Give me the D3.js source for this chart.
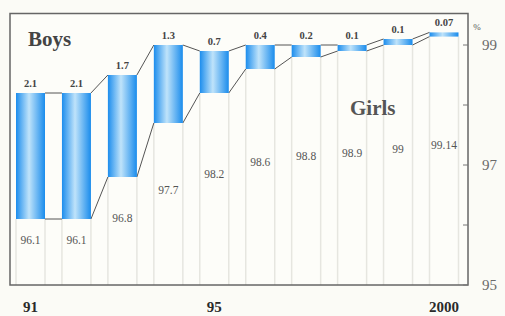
<!DOCTYPE html>
<html>
<head>
<meta charset="utf-8">
<script src="https://cdn.jsdelivr.net/npm/d3@7"></script>
<style>
  body { margin: 0; background: #fbfbf6; }
  svg { display: block; }
</style>
</head>
<body>
<div id="chart"></div>
<script>
// datos
const years = ["91", "92", "93", "94", "95", "96", "97", "98", "99", "2000"];
const girls = [96.1, 96.1, 96.8, 97.7, 98.2, 98.6, 98.8, 98.9, 99, 99.14];
const gap = [2.1, 2.1, 1.7, 1.3, 0.7, 0.4, 0.2, 0.1, 0.1, 0.07];
const girlsLabels = ["96.1", "96.1", "96.8", "97.7", "98.2", "98.6", "98.8", "98.9", "99", "99.14"];
const gapLabels = ["2.1", "2.1", "1.7", "1.3", "0.7", "0.4", "0.2", "0.1", "0.1", "0.07"];
const yTicks = [95, 97, 99];
const yMinor = [96, 98];
const xLabels = ["91", "95", "2000"];

const width = 505, height = 316;
const frame = { left: 10, right: 468, top: 13.5, bottom: 285 };
const barW = 29;
const serif = "'Liberation Serif', 'DejaVu Serif', serif";

const svg = d3.select("#chart").append("svg")
  .attr("width", width)
  .attr("height", height)
  .attr("font-family", serif);

const x = d3.scalePoint().domain(years).range([30.5, 444]);
const y = d3.scaleLinear().domain([95, 99]).range([285, 45]);
// las etiquetas de las chicas van en escalera, en otra escala
const yLab = d3.scaleLinear().domain([95, 99]).range([274.4, 149.4]);

const boys = girls.map((g, i) => g + gap[i]);

// degradado de las barras
const grad = svg.append("defs").append("linearGradient")
  .attr("id", "barra")
  .attr("x1", "0%").attr("x2", "100%")
  .attr("y1", "0%").attr("y2", "0%");
grad.append("stop").attr("offset", "0%").attr("stop-color", "#1c8ded");
grad.append("stop").attr("offset", "45%").attr("stop-color", "#bfe3fa");
grad.append("stop").attr("offset", "100%").attr("stop-color", "#1a8cec");

// fondo del area
svg.append("rect")
  .attr("x", frame.left).attr("y", frame.top)
  .attr("width", frame.right - frame.left)
  .attr("height", frame.bottom - frame.top)
  .attr("fill", "#fdfdf9");

// lineas verticales tenues bajo las barras
years.forEach((yr, i) => {
  [x(yr) - barW / 2, x(yr) + barW / 2].forEach(px => {
    svg.append("line")
      .attr("x1", px).attr("x2", px)
      .attr("y1", y(girls[i])).attr("y2", frame.bottom)
      .attr("stroke", "#e6e6e0").attr("stroke-width", 1.5);
  });
});

// lineas de union entre barras
for (let i = 0; i < years.length - 1; i++) {
  const x1 = x(years[i]) + barW / 2, x2 = x(years[i + 1]) - barW / 2;
  [[boys[i], boys[i + 1]], [girls[i], girls[i + 1]]].forEach(([a, b]) => {
    svg.append("line")
      .attr("x1", x1).attr("y1", y(a))
      .attr("x2", x2).attr("y2", y(b))
      .attr("stroke", "#555").attr("stroke-width", 1);
  });
}

// barras
svg.selectAll(".bar")
  .data(years)
  .join("rect")
  .attr("class", "bar")
  .attr("x", d => x(d) - barW / 2)
  .attr("width", barW)
  .attr("y", (d, i) => y(boys[i]))
  .attr("height", (d, i) => y(girls[i]) - y(boys[i]))
  .attr("fill", "url(#barra)");

// marco
svg.append("rect")
  .attr("x", frame.left).attr("y", frame.top)
  .attr("width", frame.right - frame.left)
  .attr("height", frame.bottom - frame.top)
  .attr("fill", "none")
  .attr("stroke", "#666").attr("stroke-width", 1.5);

// marcas del eje derecho
yTicks.concat(yMinor).forEach(v => {
  svg.append("line")
    .attr("x1", frame.right - 5).attr("x2", frame.right)
    .attr("y1", y(v)).attr("y2", y(v))
    .attr("stroke", "#777").attr("stroke-width", 1);
});

svg.selectAll(".ytick")
  .data(yTicks)
  .join("text")
  .attr("class", "ytick")
  .attr("x", 482)
  .attr("y", d => y(d) + 5)
  .attr("font-size", 15)
  .attr("fill", "#6a6a6a")
  .text(d => d);

svg.append("text")
  .attr("x", 477).attr("y", 30)
  .attr("font-size", 9)
  .attr("fill", "#555")
  .style("text-anchor", "middle")
  .text("%");

// etiquetas de diferencia (arriba)
svg.selectAll(".gap")
  .data(years)
  .join("text")
  .attr("class", "gap")
  .attr("x", d => x(d))
  .attr("y", (d, i) => y(boys[i]) - 6)
  .attr("font-size", 10.5)
  .attr("font-weight", "bold")
  .attr("fill", "#444")
  .style("text-anchor", "middle")
  .text((d, i) => gapLabels[i]);

// etiquetas de las chicas (abajo)
svg.selectAll(".girl")
  .data(years)
  .join("text")
  .attr("class", "girl")
  .attr("x", d => x(d))
  .attr("y", (d, i) => yLab(girls[i]) + 4)
  .attr("font-size", 11.5)
  .attr("fill", "#555")
  .style("text-anchor", "middle")
  .text((d, i) => girlsLabels[i]);

// eje x
svg.selectAll(".xlab")
  .data(xLabels)
  .join("text")
  .attr("class", "xlab")
  .attr("x", d => x(d))
  .attr("y", 312)
  .attr("font-size", 15)
  .attr("font-weight", "bold")
  .attr("fill", "#2a2a2a")
  .style("text-anchor", "middle")
  .text(d => d);

svg.append("text")
  .attr("x", 28).attr("y", 46)
  .attr("font-size", 21)
  .attr("font-weight", "bold")
  .attr("fill", "#444")
  .text("Boys");

svg.append("text")
  .attr("x", 350).attr("y", 115)
  .attr("font-size", 21)
  .attr("font-weight", "bold")
  .attr("fill", "#555")
  .text("Girls");
</script>
</body>
</html>
